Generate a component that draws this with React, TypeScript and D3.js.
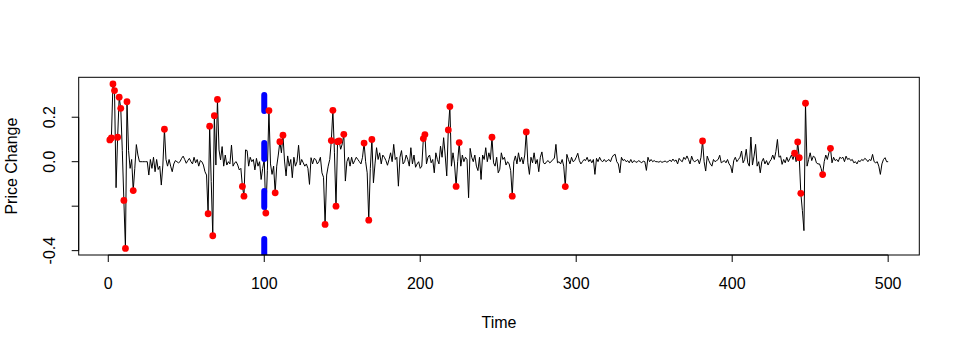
import { useEffect, useRef } from "react";
import * as d3 from "d3";

// price change series, index 1..500
const priceChange: number[] = [
  0.098, 0.107, 0.35, 0.32, -0.117, 0.11, 0.29, 0.24, 0.05, -0.174,
  -0.39, 0.27, 0.05, -0.03, 0.01, -0.13, -0.03, 0.077, 0.03, 0.0,
  0.0, 0.0, 0.0, 0.0, 0.0, -0.06, 0.01, -0.03, 0.02, -0.045,
  0.01, -0.035, -0.02, -0.105, -0.015, 0.146, 0.01, -0.02, 0.01, -0.02,
  -0.045, -0.01, 0.005, 0.0, -0.005, 0.0, 0.015, 0.025, 0.01, -0.007,
  0.005, 0.015, 0.0, -0.01, 0.02, -0.005, 0.01, -0.02, 0.005, 0.0,
  -0.015, -0.045, -0.06, -0.234, 0.16, -0.09, -0.333, 0.207, -0.015, 0.28,
  0.053, 0.008, 0.068, -0.02, 0.03, -0.015, 0.0, -0.01, 0.075, -0.02,
  -0.005, 0.0, -0.015, -0.037, -0.03, -0.111, -0.155, 0.053, 0.05, -0.02,
  0.02, 0.0, 0.01, -0.037, 0.015, -0.02, 0.0, -0.08, -0.03, 0.01,
  -0.231, -0.04, 0.23, -0.01, -0.057, -0.02, -0.14, -0.02, 0.03, 0.09,
  0.04, 0.119, 0.003, -0.064, 0.026, -0.02, 0.01, -0.072, 0.02, -0.02,
  0.0, 0.074, -0.015, 0.01, -0.005, -0.02, -0.01, -0.03, -0.102, 0.018,
  -0.01, 0.015, 0.01, -0.01, 0.0, 0.02, -0.05, -0.07, -0.282, -0.06,
  -0.02, 0.01, 0.095, 0.231, 0.04, -0.2, 0.09, 0.093, 0.056, 0.08,
  0.123, -0.087, 0.0, 0.02, -0.02, 0.02, -0.01, 0.005, 0.02, 0.01,
  0.0, -0.01, 0.02, 0.084, 0.0, -0.05, -0.263, -0.03, 0.1, -0.095,
  -0.01, 0.063, 0.01, 0.04, -0.01, 0.03, 0.02, 0.005, -0.016, 0.01,
  0.04, 0.0, 0.078, 0.01, 0.02, -0.11, 0.02, 0.05, -0.01, 0.0,
  0.03, 0.01, -0.02, 0.063, -0.01, 0.03, -0.025, -0.01, 0.0, -0.03,
  -0.02, 0.104, 0.122, -0.01, 0.02, 0.03, -0.005, 0.01, -0.05, 0.04,
  0.01, -0.01, 0.07, 0.02, 0.108, 0.03, -0.064, 0.143, 0.248, -0.02,
  0.04, -0.01, -0.111, 0.0, 0.086, -0.02, 0.03, 0.0, 0.02, 0.01,
  -0.162, 0.06, 0.02, 0.0, 0.03, -0.02, -0.04, 0.02, -0.08, 0.03,
  0.01, 0.063, 0.0, 0.04, 0.01, 0.11, -0.005, -0.02, 0.02, -0.05,
  -0.034, 0.04, 0.01, 0.02, -0.015, 0.0, -0.01, -0.04, -0.155, 0.0,
  0.026, -0.01, 0.04, 0.0, 0.02, -0.01, 0.03, 0.134, -0.005, -0.057,
  0.02, -0.005, 0.04, -0.01, 0.01, -0.045, 0.02, 0.044, -0.005, -0.01,
  0.0, 0.005, -0.005, 0.0, 0.01, 0.015, 0.078, -0.005, 0.0, -0.01,
  0.01, -0.02, -0.112, 0.033, 0.01, -0.01, 0.02, 0.0, 0.005, 0.02,
  0.038, 0.005, -0.01, 0.0, 0.01, 0.005, 0.02, 0.0, 0.01, -0.005,
  0.01, -0.057, 0.015, 0.0, 0.02, 0.005, 0.0, 0.01, 0.0, 0.005,
  0.01, 0.0, 0.02, 0.03, 0.033, 0.0, -0.01, -0.05, 0.02, 0.005,
  0.01, 0.0, 0.005, -0.005, 0.01, -0.005, 0.005, 0.0, -0.003, 0.005,
  0.0, -0.005, 0.003, 0.0, -0.039, 0.02, 0.0, 0.01, 0.0, 0.005,
  0.0, 0.0, -0.002, 0.002, -0.003, 0.0, 0.003, -0.002, 0.0, 0.008,
  0.0, 0.012, 0.002, 0.008, -0.01, 0.015, 0.005, 0.0, 0.02, 0.01,
  0.026, 0.01, -0.01, 0.025, 0.005, 0.0, 0.005, 0.01, -0.01, 0.02,
  0.093, 0.0, -0.042, 0.025, 0.005, -0.01, -0.02, 0.01, 0.0, 0.005,
  0.01, 0.029, -0.005, 0.0, 0.005, -0.005, 0.01, -0.01, -0.02, -0.05,
  0.005, 0.02, 0.0, 0.01, 0.02, 0.048, -0.005, 0.01, 0.056, -0.005,
  -0.02, 0.111, -0.015, 0.025, 0.078, -0.02, 0.0, -0.05, 0.0, 0.015,
  -0.01, 0.005, -0.015, 0.0, 0.01, 0.03, 0.01, 0.045, 0.1, 0.02,
  0.026, -0.012, 0.01, -0.005, 0.02, 0.0, 0.015, 0.03, 0.01, 0.038,
  0.0, 0.089, 0.018, -0.142, -0.22, -0.31, 0.263, -0.02, 0.01, 0.04,
  0.005, 0.025, 0.02, -0.005, -0.01, -0.01, -0.03, -0.058, 0.0, 0.03,
  0.01, 0.04, 0.06, -0.005, 0.02, 0.005, 0.01, 0.0, 0.02, 0.015,
  0.02, 0.0, 0.025, 0.01, 0.015, 0.005, 0.01, -0.005, 0.0, -0.01,
  0.005, 0.0, 0.01, 0.005, 0.015, 0.01, 0.0, 0.01, 0.005, 0.033,
  0.0, -0.005, 0.0, -0.02, -0.057, -0.01, 0.01, 0.018, 0.0, 0.0,
];

// indices (1-based) marked in red
const flagged: number[] = [
  1, 2, 3, 4, 6, 7, 8, 10, 11, 12, 16, 36, 64, 65, 67, 68, 70, 86, 87,
  101, 103, 107, 110, 112, 139, 143, 144, 146, 147, 148, 151, 164, 167, 169,
  202, 203, 218, 219, 223, 225, 246, 259, 268, 293, 381, 440, 442, 443, 444,
  447, 458, 463,
];

const changePoint = 100;
const xTicks = [0, 100, 200, 300, 400, 500];
const yTicks = [-0.4, -0.2, 0.0, 0.2];
const yTickLabels = ["-0.4", "", "0.0", "0.2"];

const W = 960;
const H = 354;
const box = { left: 78.7, right: 919.3, top: 77.3, bottom: 255 };
const font = "'Liberation Sans', Arial, Helvetica, sans-serif";
const fs = 16;

export default function App() {
  const svgRef = useRef<SVGSVGElement>(null);

  useEffect(() => {
    const svg = d3.select(svgRef.current);
    svg.selectAll("*").remove();

    const n = priceChange.length;
    const xPad = 0.04 * (n - 1);
    const [ymin, ymax] = d3.extent(priceChange) as [number, number];
    const yPad = 0.04 * (ymax - ymin);

    const x = d3.scaleLinear().domain([1 - xPad, n + xPad]).range([box.left, box.right]);
    const y = d3.scaleLinear().domain([ymin - yPad, ymax + yPad]).range([box.bottom, box.top]);

    svg.append("rect").attr("width", W).attr("height", H).attr("fill", "white");

    svg.append("defs").append("clipPath").attr("id", "plotclip")
      .append("rect")
      .attr("x", box.left).attr("y", box.top)
      .attr("width", box.right - box.left).attr("height", box.bottom - box.top);

    const plot = svg.append("g").attr("clip-path", "url(#plotclip)");

    const line = d3.line<number>()
      .x((_, i) => x(i + 1))
      .y((d) => y(d));

    plot.append("path")
      .datum(priceChange)
      .attr("d", line)
      .attr("fill", "none")
      .attr("stroke", "black")
      .attr("stroke-width", 1);

    // vertical dashed line at the change point, drawn bottom-up like abline
    plot.append("line")
      .attr("x1", x(changePoint)).attr("x2", x(changePoint))
      .attr("y1", box.bottom).attr("y2", box.top)
      .attr("stroke", "#0000ff")
      .attr("stroke-width", 6)
      .attr("stroke-linecap", "round")
      .attr("stroke-dasharray", "16 32");

    plot.selectAll("circle.flag")
      .data(flagged)
      .join("circle")
      .attr("class", "flag")
      .attr("cx", (d) => x(d))
      .attr("cy", (d) => y(priceChange[d - 1]))
      .attr("r", 3.4)
      .attr("fill", "#ff0000");

    // frame
    svg.append("rect")
      .attr("x", box.left).attr("y", box.top)
      .attr("width", box.right - box.left).attr("height", box.bottom - box.top)
      .attr("fill", "none").attr("stroke", "black").attr("stroke-width", 1);

    // x axis
    const xAxis = svg.append("g").attr("transform", `translate(0,${box.bottom})`);
    xAxis.append("line")
      .attr("x1", x(xTicks[0])).attr("x2", x(xTicks[xTicks.length - 1]))
      .attr("stroke", "black");
    xTicks.forEach((t) => {
      xAxis.append("line")
        .attr("x1", x(t)).attr("x2", x(t)).attr("y1", 0).attr("y2", 7)
        .attr("stroke", "black");
      xAxis.append("text")
        .attr("x", x(t)).attr("y", 34)
        .attr("text-anchor", "middle")
        .attr("font-family", font).attr("font-size", fs)
        .text(String(t));
    });

    // y axis
    const yAxis = svg.append("g").attr("transform", `translate(${box.left},0)`);
    yAxis.append("line")
      .attr("y1", y(yTicks[0])).attr("y2", y(yTicks[yTicks.length - 1]))
      .attr("stroke", "black");
    yTicks.forEach((t, i) => {
      yAxis.append("line")
        .attr("x1", 0).attr("x2", -7).attr("y1", y(t)).attr("y2", y(t))
        .attr("stroke", "black");
      if (yTickLabels[i]) {
        yAxis.append("text")
          .attr("transform", `translate(-24,${y(t)}) rotate(-90)`)
          .attr("text-anchor", "middle")
          .attr("font-family", font).attr("font-size", fs)
          .text(yTickLabels[i]);
      }
    });

    svg.append("text")
      .attr("x", (box.left + box.right) / 2).attr("y", 328)
      .attr("text-anchor", "middle")
      .attr("font-family", font).attr("font-size", fs)
      .text("Time");

    svg.append("text")
      .attr("transform", `translate(17,${(box.top + box.bottom) / 2}) rotate(-90)`)
      .attr("text-anchor", "middle")
      .attr("font-family", font).attr("font-size", fs)
      .text("Price Change");
  }, []);

  return (
    <svg
      ref={svgRef}
      width={W}
      height={H}
      style={{ position: "absolute", left: 0, top: 0, display: "block" }}
    />
  );
}
